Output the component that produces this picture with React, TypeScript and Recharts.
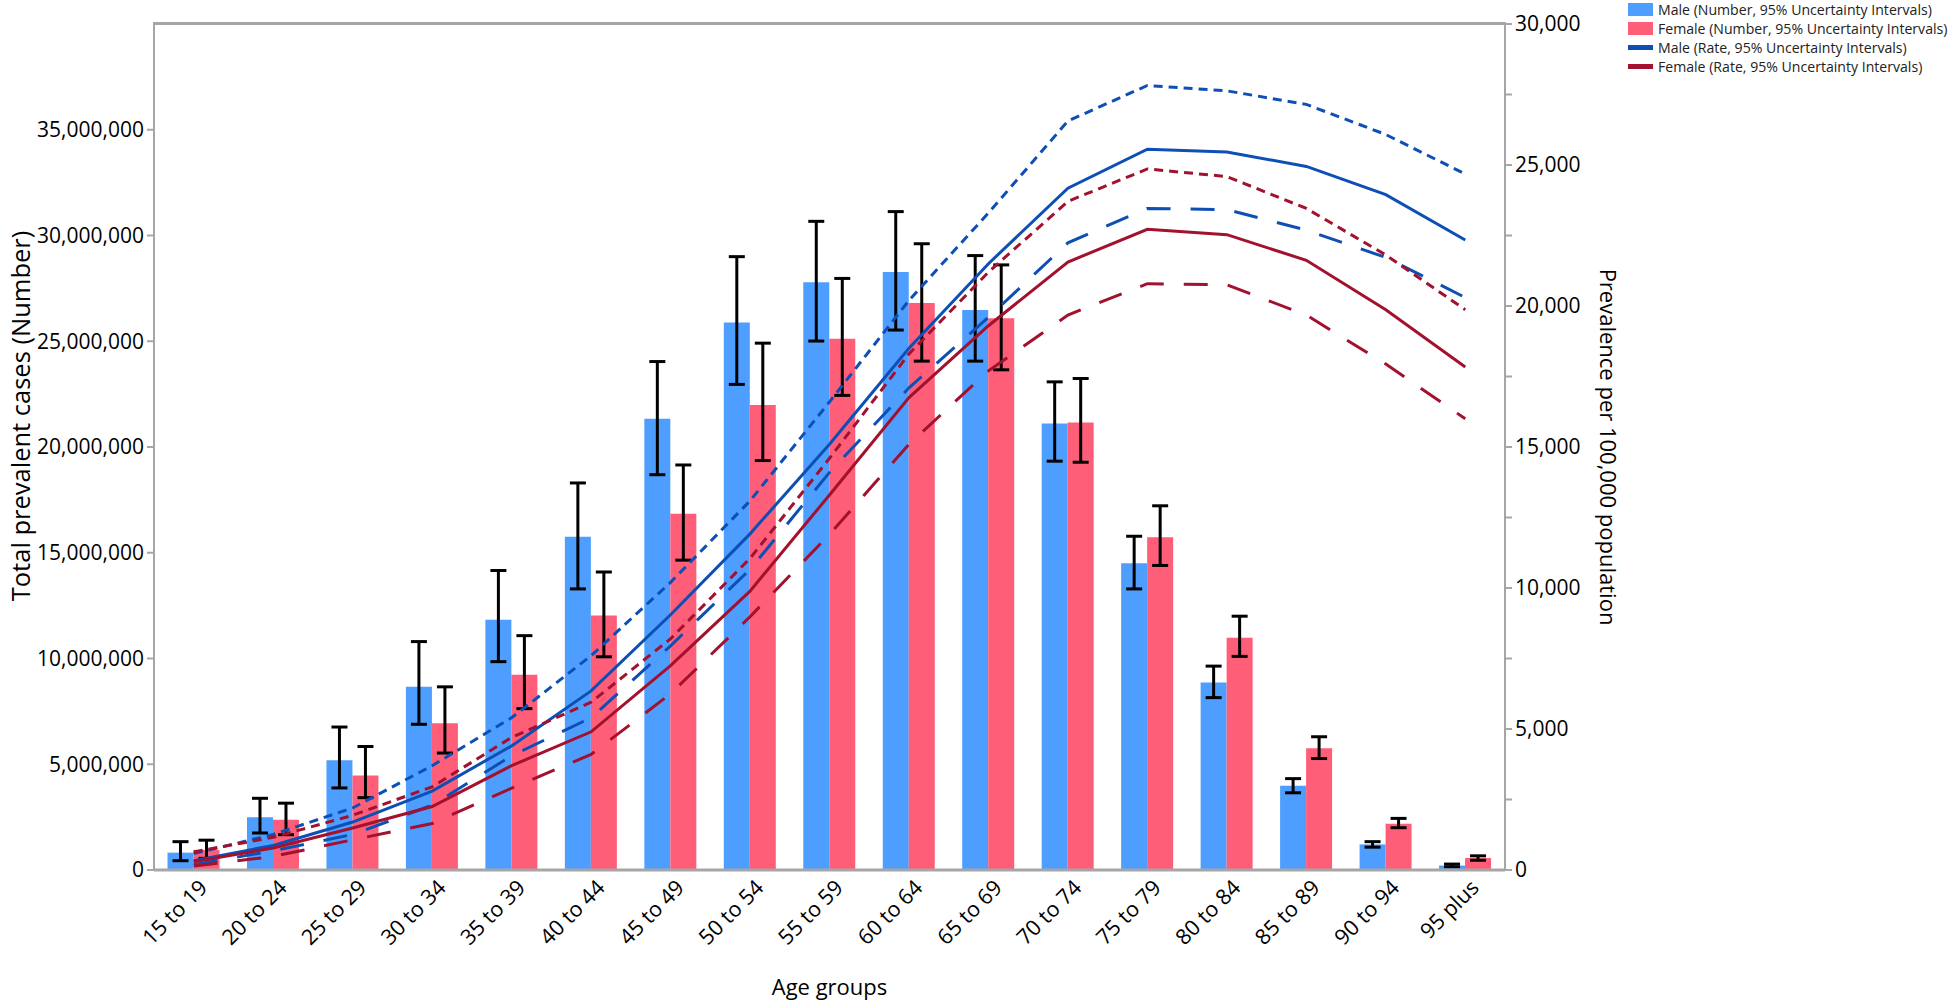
import { ComposedChart, Bar, Line, XAxis, YAxis, ErrorBar } from 'recharts';

const ageGroups = [
  '15 to 19', '20 to 24', '25 to 29', '30 to 34', '35 to 39', '40 to 44',
  '45 to 49', '50 to 54', '55 to 59', '60 to 64', '65 to 69', '70 to 74',
  '75 to 79', '80 to 84', '85 to 89', '90 to 94', '95 plus',
];

// prevalent cases (number) with 95% UI
const maleNumber = [820000, 2490000, 5190000, 8660000, 11830000, 15760000, 21340000, 25890000, 27790000, 28280000, 26480000, 21110000, 14500000, 8870000, 3980000, 1210000, 210000];
const maleNumberLower = [440000, 1750000, 3880000, 6890000, 9850000, 13290000, 18690000, 22960000, 25010000, 25530000, 24060000, 19330000, 13290000, 8150000, 3650000, 1080000, 150000];
const maleNumberUpper = [1340000, 3390000, 6760000, 10800000, 14160000, 18300000, 24040000, 29000000, 30670000, 31130000, 29050000, 23080000, 15780000, 9640000, 4320000, 1340000, 280000];

const femaleNumber = [950000, 2370000, 4470000, 6940000, 9230000, 12030000, 16840000, 21980000, 25120000, 26810000, 26090000, 21160000, 15730000, 10980000, 5760000, 2190000, 570000];
const femaleNumberLower = [550000, 1670000, 3420000, 5530000, 7630000, 10080000, 14650000, 19360000, 22440000, 24060000, 23650000, 19280000, 14400000, 10100000, 5270000, 2000000, 460000];
const femaleNumberUpper = [1410000, 3160000, 5840000, 8660000, 11080000, 14090000, 19150000, 24910000, 27970000, 29610000, 28610000, 23240000, 17220000, 12000000, 6300000, 2440000, 670000];

// prevalence per 100,000 with 95% UI
const maleRate = [330, 870, 1700, 2800, 4400, 6350, 9050, 11920, 15100, 18500, 21500, 24180, 25560, 25460, 24950, 23950, 22340];
const maleRateUpper = [580, 1260, 2200, 3700, 5400, 7600, 10200, 13090, 16600, 20200, 23300, 26560, 27820, 27630, 27150, 26080, 24680];
const maleRateLower = [190, 680, 1260, 2300, 4050, 5400, 7950, 10660, 14100, 17100, 19600, 22240, 23460, 23420, 22690, 21720, 20300];

const femaleRate = [290, 780, 1490, 2250, 3700, 4900, 7250, 9890, 13300, 16750, 19300, 21560, 22720, 22530, 21620, 19870, 17840];
const femaleRateUpper = [640, 1160, 1940, 2950, 4700, 5950, 8200, 11050, 14600, 18300, 21200, 23710, 24860, 24590, 23460, 21810, 19870];
const femaleRateLower = [140, 480, 1070, 1650, 2900, 4100, 6250, 8980, 11900, 15100, 17700, 19680, 20790, 20750, 19680, 17940, 16000];

const leftTicks = [0, 5000000, 10000000, 15000000, 20000000, 25000000, 30000000, 35000000];
const rightTicks = [0, 2500, 5000, 7500, 10000, 12500, 15000, 17500, 20000, 22500, 25000, 27500, 30000];

const MALE_BAR = '#4E9EFF';
const FEMALE_BAR = '#FF5E79';
const MALE_LINE = '#0D4FB5';
const FEMALE_LINE = '#A2112D';
const AXIS = '#A6A6A6';
const FONT = '"Open Sans", "Noto Sans", sans-serif';

const data = ageGroups.map((age, i) => ({
  age,
  maleNumber: maleNumber[i],
  maleNumberErr: [maleNumber[i] - maleNumberLower[i], maleNumberUpper[i] - maleNumber[i]],
  femaleNumber: femaleNumber[i],
  femaleNumberErr: [femaleNumber[i] - femaleNumberLower[i], femaleNumberUpper[i] - femaleNumber[i]],
  maleRate: maleRate[i],
  maleRateUpper: maleRateUpper[i],
  maleRateLower: maleRateLower[i],
  femaleRate: femaleRate[i],
  femaleRateUpper: femaleRateUpper[i],
  femaleRateLower: femaleRateLower[i],
}));

const fmt = (v: number) => v.toLocaleString('en-US');

function AgeTick({ x, y, payload }: any) {
  return (
    <g transform={`translate(${x},${y})`}>
      <text x={15} y={17} textAnchor="end" transform="rotate(-45 15 17)" fontSize={21.5} fill="#000" fontFamily={FONT}>
        {payload.value}
      </text>
    </g>
  );
}

function LeftTitle() {
  return (
    <text x={20} y={416} transform="rotate(-90 20 416)" textAnchor="middle" dominantBaseline="central" fontSize={25.5} fill="#000" fontFamily={FONT}>
      Total prevalent cases (Number)
    </text>
  );
}

const legendItems = [
  { label: 'Male (Number, 95% Uncertainty Intervals)', color: MALE_BAR, kind: 'bar' },
  { label: 'Female (Number, 95% Uncertainty Intervals)', color: FEMALE_BAR, kind: 'bar' },
  { label: 'Male (Rate, 95% Uncertainty Intervals)', color: MALE_LINE, kind: 'line' },
  { label: 'Female (Rate, 95% Uncertainty Intervals)', color: FEMALE_LINE, kind: 'line' },
];

export default function App() {
  return (
    <div style={{ position: 'absolute', left: 0, top: 0, width: 1949, height: 1002, background: '#fff', fontFamily: FONT }}>
      <ComposedChart
        width={1949}
        height={1002}
        data={data}
        margin={{ top: 24, right: 314, bottom: 7, left: 0 }}
        barCategoryGap="17%"
        barGap={0}
        style={{ fontFamily: FONT }}
      >
        <XAxis
          dataKey="age"
          interval={0}
          height={125}
          tickSize={0}
          tickLine={false}
          tick={<AgeTick />}
          axisLine={{ stroke: AXIS, strokeWidth: 3 }}
          label={{ value: 'Age groups', position: 'insideBottom', offset: 0, style: { fontSize: 22, fill: '#000' } }}
        />
        <YAxis
          yAxisId="left"
          width={154}
          domain={[0, 40000000]}
          ticks={leftTicks}
          interval={0}
          tickFormatter={fmt}
          tickSize={7}
          tickMargin={3}
          tickLine={{ stroke: AXIS, strokeWidth: 2 }}
          axisLine={{ stroke: AXIS, strokeWidth: 2 }}
          tick={{ fontSize: 21, fill: '#000' }}
          label={{ content: () => <LeftTitle /> }}
        />
        <YAxis
          yAxisId="right"
          orientation="right"
          width={130}
          domain={[0, 30000]}
          ticks={rightTicks}
          interval={0}
          tickFormatter={(v: number) => (v % 5000 === 0 ? fmt(v) : '')}
          tickSize={7}
          tickMargin={3}
          tickLine={{ stroke: AXIS, strokeWidth: 2 }}
          axisLine={{ stroke: AXIS, strokeWidth: 2 }}
          tick={{ fontSize: 21, fill: '#000' }}
          label={{ value: 'Prevalence per 100,000 population', angle: 90, position: 'insideRight', offset: 27, style: { textAnchor: 'middle', fontSize: 22, fill: '#000' } }}
        />

        <Bar yAxisId="left" dataKey="maleNumber" fill={MALE_BAR} isAnimationActive={false}>
          <ErrorBar dataKey="maleNumberErr" width={8} strokeWidth={3} stroke="#000" direction="y" />
        </Bar>
        <Bar yAxisId="left" dataKey="femaleNumber" fill={FEMALE_BAR} isAnimationActive={false}>
          <ErrorBar dataKey="femaleNumberErr" width={8} strokeWidth={3} stroke="#000" direction="y" />
        </Bar>

        <Line yAxisId="right" type="linear" dataKey="maleRateUpper" stroke={MALE_LINE} strokeWidth={3} strokeDasharray="9 6" dot={false} isAnimationActive={false} />
        <Line yAxisId="right" type="linear" dataKey="maleRate" stroke={MALE_LINE} strokeWidth={3} dot={false} isAnimationActive={false} />
        <Line yAxisId="right" type="linear" dataKey="maleRateLower" stroke={MALE_LINE} strokeWidth={3} strokeDasharray="24 20" dot={false} isAnimationActive={false} />
        <Line yAxisId="right" type="linear" dataKey="femaleRateUpper" stroke={FEMALE_LINE} strokeWidth={3} strokeDasharray="9 6" dot={false} isAnimationActive={false} />
        <Line yAxisId="right" type="linear" dataKey="femaleRate" stroke={FEMALE_LINE} strokeWidth={3} dot={false} isAnimationActive={false} />
        <Line yAxisId="right" type="linear" dataKey="femaleRateLower" stroke={FEMALE_LINE} strokeWidth={3} strokeDasharray="24 20" dot={false} isAnimationActive={false} />
      </ComposedChart>

      {/* top edge of the plot frame */}
      <div style={{ position: 'absolute', left: 153, top: 22, width: 1353, height: 3, background: AXIS }} />

      <div style={{ position: 'absolute', left: 1628, top: 0 }}>
        {legendItems.map((item) => (
          <div key={item.label} style={{ display: 'flex', alignItems: 'center', height: 19 }}>
            <div
              style={{
                width: 25,
                height: item.kind === 'bar' ? 13 : 5,
                background: item.color,
                marginRight: 5,
              }}
            />
            <span style={{ fontSize: 14.1, color: '#222', whiteSpace: 'nowrap' }}>{item.label}</span>
          </div>
        ))}
      </div>
    </div>
  );
}
